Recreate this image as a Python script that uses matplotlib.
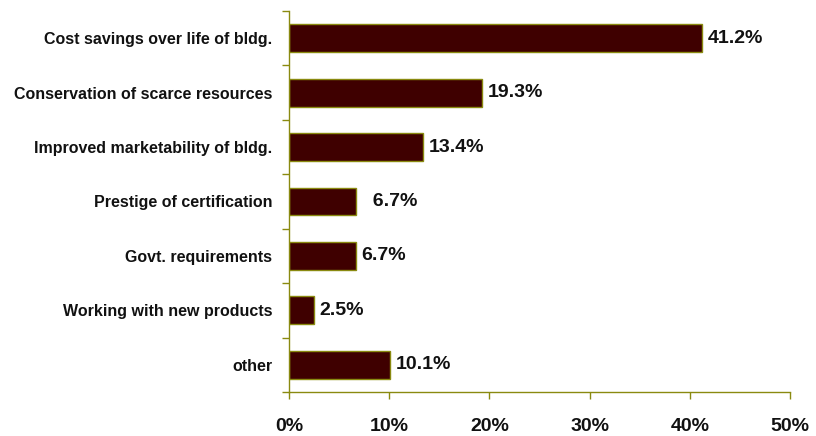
import matplotlib
matplotlib.use("Agg")
import matplotlib.pyplot as plt
import numpy as np

categories = [
    "Cost savings over life of bldg.",
    "Conservation of scarce resources",
    "Improved marketability of bldg.",
    "Prestige of certification",
    "Govt. requirements",
    "Working with new products",
    "other",
]
values = [41.2, 19.3, 13.4, 6.7, 6.7, 2.5, 10.1]
x_ticks = [0, 10, 20, 30, 40, 50]
x_tick_labels = ["0%", "10%", "20%", "30%", "40%", "50%"]
value_labels = ["41.2%", "19.3%", "13.4%", "  6.7%", "6.7%", "2.5%", "10.1%"]

plt.rcParams["font.family"] = ["Liberation Sans", "DejaVu Sans"]

axis_color = "#8A8A10"
bar_color = "#3F0000"

fig = plt.figure(figsize=(8.16, 4.36), dpi=100)
ax = fig.add_axes([289 / 816, 1 - 392 / 436, (790 - 289) / 816, (392 - 11) / 436])

pos = np.arange(len(categories))
ax.barh(pos, values, height=0.51, color=bar_color, edgecolor=axis_color, linewidth=1.0, zorder=2)

for p, v, lab in zip(pos, values, value_labels):
    ax.annotate(lab, xy=(v, p), xytext=(4, 0), textcoords="offset points",
                va="center", ha="left", fontsize=14, fontweight="bold", color="#111111")

ax.set_xlim(0, 50)
ax.set_ylim(len(categories) - 0.5, -0.5)

ax.set_xticks(x_ticks)
ax.set_xticklabels(x_tick_labels, fontsize=14, fontweight="bold", color="#111111")
ax.set_yticks(pos)
ax.set_yticklabels(categories, fontsize=11.5, fontweight="bold", color="#111111")
ax.set_yticks(np.arange(len(categories) + 1) - 0.5, minor=True)

ax.tick_params(axis="x", direction="out", length=5, width=1, color=axis_color, pad=14)
ax.tick_params(axis="y", which="major", direction="in", length=4, width=1, color=axis_color, pad=12)
ax.tick_params(axis="y", which="minor", direction="out", length=5, width=1, color=axis_color)

for side in ("top", "right"):
    ax.spines[side].set_visible(False)
for side in ("left", "bottom"):
    ax.spines[side].set_color(axis_color)
    ax.spines[side].set_linewidth(1.0)

fig.savefig("out.png", dpi=100)
